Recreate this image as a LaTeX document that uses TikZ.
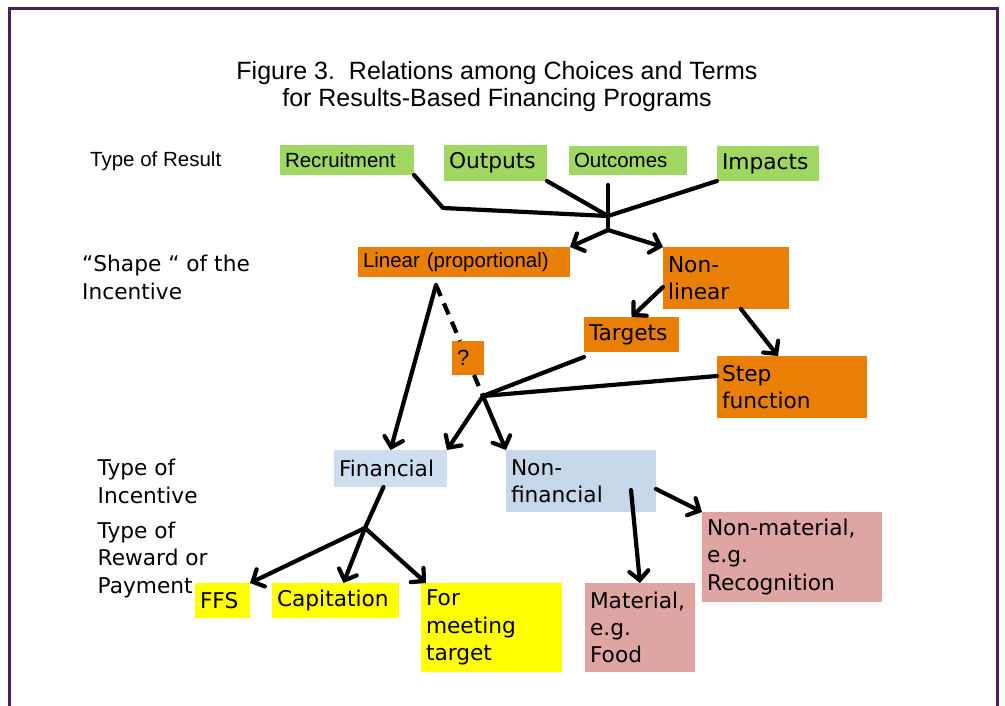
\documentclass[tikz,border=0pt]{standalone}
\usepackage{fontspec}
\setmainfont{Liberation Sans}
\newfontfamily\dvs{DejaVu Sans}
\usetikzlibrary{arrows.meta}
\definecolor{frameP}{RGB}{74,30,92}
\definecolor{resG}{RGB}{160,214,98}
\definecolor{shpO}{RGB}{233,128,5}
\definecolor{finB}{RGB}{206,222,240}
\definecolor{nfB}{RGB}{197,215,233}
\definecolor{payY}{RGB}{255,255,0}
\definecolor{nonP}{RGB}{223,165,163}
\newcommand\arialtxt{\fontsize{20.5}{26}\selectfont}
\newcommand\dvtxt{\dvs\fontsize{21.7}{27.3}\selectfont}
\tikzset{
  bx/.style={anchor=north west, inner xsep=5pt, inner ysep=0pt, outer sep=0pt, align=left},
  conn/.style={line width=4.2pt, black, line cap=round, line join=round},
  arr/.style={conn, -{Straight Barb[length=9pt,width=19pt,line cap=round]}},
  dsh/.style={line width=4.2pt, black, dash pattern=on 12pt off 8pt},
  lbl/.style={anchor=base west, inner sep=0pt, align=left},
}
\begin{document}
\begin{tikzpicture}[x=1pt,y=-1pt]
\useasboundingbox (0,0) rectangle (1005,706);
\fill[white] (0,0) rectangle (1005,706);
\draw[frameP, line width=3pt] (9.5,706) -- (9.5,8.5) -- (997.5,8.5) -- (997.5,706);

% title
\node[anchor=base, inner sep=0pt, font=\fontsize{25}{28}\selectfont] (t1) at (497,80) {Figure 3.\ \ Relations among Choices and Terms};
\node[anchor=base, inner sep=0pt, font=\fontsize{25}{28}\selectfont] (t2) at (497,107) {for Results-Based Financing Programs};

% left labels (base = last line)
\node[lbl, font=\arialtxt] (lres) at (90,167) {Type of Result};
\node[lbl, font=\dvtxt] (lshape) at (82,299) {“Shape “ of the\\Incentive};
\node[lbl, font=\dvtxt] (linc) at (97.5,503) {Type of\\Incentive};
\node[lbl, font=\dvtxt] (lpay) at (97.5,593) {Type of\\Reward or\\Payment};

% result boxes
\node[bx, fill=resG, minimum width=134pt, minimum height=30pt, text width=124pt, font=\arialtxt] (rec) at (280,145) {Recruitment};
\node[bx, fill=resG, minimum width=103pt, minimum height=36pt, text width=93pt, font=\dvtxt] (out) at (444,145) {Outputs};
\node[bx, fill=resG, minimum width=118pt, minimum height=29pt, text width=108pt, font=\arialtxt] (oc) at (569,146) {Outcomes};
\node[bx, fill=resG, minimum width=102pt, minimum height=35pt, text width=92pt, font=\dvtxt] (imp) at (717,146) {Impacts};

% shape boxes
\node[bx, fill=shpO, minimum width=212pt, minimum height=30pt, text width=202pt, font=\arialtxt] (lin) at (358,247) {Linear (proportional)};
\node[bx, fill=shpO, minimum width=126pt, minimum height=62pt, text width=116pt, font=\dvtxt] (nl) at (663,247) {Non-\\linear};
\node[bx, fill=shpO, minimum width=95pt, minimum height=35pt, text width=85pt, font=\dvtxt] (tg) at (584,317) {Targets};
\node[bx, fill=shpO, minimum width=150pt, minimum height=62pt, text width=140pt, font=\dvtxt] (sf) at (717,356) {Step\\function};
\node[bx, fill=shpO, minimum width=32pt, minimum height=34pt, text width=22pt, font=\fontsize{22}{26}\selectfont] (q) at (452,341) {?};

% incentive boxes
\node[bx, fill=finB, minimum width=113pt, minimum height=37pt, text width=103pt, font=\dvtxt] (fin) at (334,450) {Financial};
\node[bx, fill=nfB, minimum width=150pt, minimum height=62pt, text width=140pt, font=\dvtxt] (nf) at (506,450) {Non-\\financial};

% payment boxes
\node[bx, fill=payY, minimum width=55pt, minimum height=35pt, text width=45pt, font=\dvtxt] (ffs) at (195,583) {FFS};
\node[bx, fill=payY, minimum width=127pt, minimum height=35pt, text width=117pt, font=\dvtxt] (cap) at (272,583) {Capitation};
\node[bx, fill=payY, minimum width=141pt, minimum height=89pt, text width=131pt, font=\dvtxt] (fmt) at (421,583) {For\\meeting\\target};
\node[bx, fill=nonP, minimum width=110pt, minimum height=89pt, text width=100pt, font=\dvtxt] (mat) at (585,583) {Material,\\e.g.\\Food};
\node[bx, fill=nonP, minimum width=180pt, minimum height=90pt, text width=170pt, font=\dvtxt] (nm) at (702,512) {Non-material,\\e.g.\\Recognition};

% junctions
\coordinate (j1) at (608,216);
\coordinate (j2) at (608,230);
\coordinate (rb) at (443,208);
\coordinate (j3) at (483,396);
\coordinate (ls) at (436,285);
\coordinate (j4) at (365,528);
\coordinate (nfs) at (631,490);

% top connectors
\draw[conn] (rec.south east) -- (rb) -- (j1);
\draw[conn] (out.south east) -- (j1);
\draw[conn] (imp.south west) -- (j1);
\draw[conn] ([xshift=-20pt,yshift=-10pt]oc.south) -- (j2);
\draw[arr] (j2) -- (lin.north east);
\draw[arr] (j2) -- (nl.north west);

% shape connectors
\draw[arr] ([yshift=-9pt]nl.west) -- (tg.north);
\draw[arr] ([xshift=15pt]nl.south) -- ([xshift=-14pt]sf.north);
\draw[conn] ([yshift=-5pt]tg.south west) -- (j3);
\draw[conn] ([yshift=11pt]sf.west) -- (j3);
\draw[arr] (j3) -- (fin.north east);
\draw[arr] (j3) -- (nf.north west);
\draw[arr] (ls) -- (fin.north);
\draw[dsh] (ls) -- ([xshift=-8pt]q.north);
\draw[dsh] ([xshift=6pt]q.south) -- (j3);

% payment connectors
\draw[conn] ([xshift=-7pt]fin.south) -- (j4);
\draw[arr] (j4) -- (ffs.north east);
\draw[arr] (j4) -- ([xshift=8pt]cap.north);
\draw[arr] (j4) -- ([xshift=5pt]fmt.north west);
\draw[arr] (nfs) -- (mat.north);
\draw[arr] ([yshift=-8pt]nf.east) -- (nm.north west);
\end{tikzpicture}
\end{document}
